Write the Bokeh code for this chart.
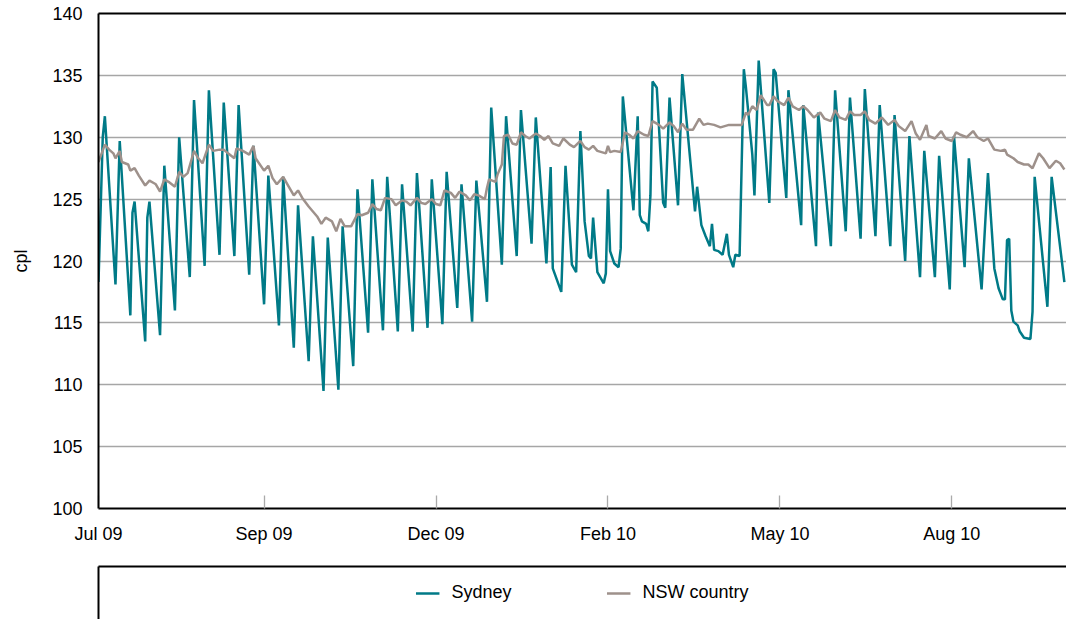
import pandas as pd
from bokeh.plotting import figure
from bokeh.models import (Range1d, FixedTicker, LinearAxis, DatetimeAxis, Grid,
                          Legend, LegendItem)
from bokeh.layouts import column
from bokeh.embed import file_html
from bokeh.resources import INLINE

# ---------------- data ----------------
start_date = "2009-07-01"
end_date = "2010-09-30"

syd_day = [0, 2, 3, 8, 10, 15, 16, 17, 22, 23, 24, 29, 31, 36, 38, 43, 45, 50, 52, 57,
           59, 64, 66, 71, 73, 78, 80, 85, 87, 92, 94, 99, 101, 106, 108, 113, 115, 120,
           122, 127, 129, 134, 136, 141, 143, 148, 150, 155, 157, 162, 164, 169, 171, 176,
           178, 183, 185, 190, 192, 197, 199, 204, 206, 211, 213, 214, 218, 220, 223, 225,
           227, 229, 231, 232, 233, 235, 238, 239, 240, 241, 243, 245, 246, 247, 252, 254,
           255, 256, 258, 259, 260, 261, 263, 266, 267, 269, 273, 275, 281, 282, 284, 286,
           288, 289, 290, 292, 294, 296, 297, 299, 300, 302, 304, 305, 308, 309, 311, 316,
           318, 319, 324, 325, 331, 332, 338, 339, 345, 347, 352, 354, 359, 361, 366, 368,
           373, 375, 380, 382, 387, 389, 394, 396, 401, 403, 408, 410, 416, 419, 422, 424,
           426, 427, 428, 429, 430, 431, 433, 434, 436, 439, 440, 441, 447, 449, 455]
syd_cpl = [118.3, 130.0, 131.7, 118.1, 129.7, 115.6, 123.9, 124.8, 113.5, 123.5, 124.8, 114.0,
           127.7, 116.0, 130.0, 118.7, 133.0, 119.6, 133.8, 120.5, 132.8, 120.4, 132.6, 118.9,
           129.3, 116.5, 126.9, 114.8, 126.8, 113.0, 124.5, 111.9, 122.0, 109.5, 121.9, 109.6,
           122.8, 111.5, 125.8, 114.2, 126.6, 114.4, 126.8, 114.3, 126.2, 114.3, 127.1, 114.6,
           126.6, 114.9, 127.2, 116.2, 126.2, 115.1, 126.5, 116.7, 132.4, 119.7, 131.7, 120.4,
           132.2, 121.4, 131.6, 119.8, 127.6, 119.4, 117.5, 127.7, 119.7, 119.1, 130.5, 123.2,
           120.4, 120.2, 123.5, 119.1, 118.2, 119.0, 125.8, 120.8, 119.8, 119.5, 121.0, 133.3,
           124.1, 131.7, 123.7, 123.2, 123.0, 122.4, 125.3, 134.5, 134.0, 124.7, 124.3, 133.2,
           124.5, 135.1, 124.0, 126.0, 122.9, 122.0, 121.2, 123.0, 120.9, 120.8, 120.5, 122.2,
           120.5, 119.5, 120.5, 120.4, 135.5, 134.0, 128.6, 125.3, 136.2, 124.7, 135.5, 135.2,
           125.1, 133.8, 122.9, 132.6, 121.2, 132.0, 121.2, 133.8, 122.4, 133.2, 121.8, 133.9,
           122.0, 132.6, 121.2, 131.8, 120.0, 130.1, 118.7, 128.9, 118.7, 128.5, 117.7, 130.1,
           119.5, 128.3, 117.7, 127.1, 119.4, 117.8, 116.9, 116.9, 121.7, 121.8, 116.0, 115.1,
           114.8, 114.3, 113.8, 113.7, 115.9, 126.8, 116.3, 126.8, 118.3]

nsw_day = [0, 3, 5, 7, 8, 10, 11, 14, 15, 17, 19, 22, 24, 26, 27, 29, 31, 33, 36, 38, 40, 42,
           45, 47, 49, 52, 54, 57, 59, 61, 64, 65, 68, 71, 73, 74, 78, 80, 82, 84, 87, 89, 92,
           94, 96, 99, 101, 103, 105, 107, 110, 112, 114, 116, 119, 122, 124, 127, 129, 131,
           133, 135, 138, 140, 143, 145, 147, 150, 152, 154, 157, 159, 161, 163, 166, 168,
           170, 173, 175, 177, 179, 182, 183, 184, 187, 188, 190, 191, 193, 195, 197, 199,
           201, 203, 206, 208, 210, 212, 214, 217, 219, 222, 224, 227, 229, 231, 233, 235,
           239, 240, 241, 243, 246, 248, 250, 252, 254, 257, 259, 261, 264, 266, 269, 271,
           273, 275, 277, 280, 283, 285, 287, 290, 293, 297, 300, 303, 305, 306, 308, 310,
           312, 315, 316, 318, 320, 323, 325, 327, 330, 332, 334, 337, 340, 342, 345, 347,
           349, 352, 354, 356, 359, 361, 363, 366, 369, 372, 375, 377, 380, 383, 385, 387,
           390, 391, 394, 397, 399, 402, 404, 406, 409, 412, 414, 417, 419, 422, 425, 427,
           428, 431, 433, 436, 438, 440, 443, 445, 448, 451, 453, 455]
nsw_cpl = [128.0, 129.4, 129.0, 128.7, 128.3, 128.9, 128.0, 127.8, 127.3, 127.5, 126.9, 126.1,
           126.5, 126.3, 126.2, 125.6, 126.6, 126.4, 126.0, 127.2, 126.8, 127.1, 128.9, 128.3,
           127.9, 129.4, 128.9, 129.0, 129.0, 128.7, 128.3, 129.1, 128.9, 128.6, 129.3, 128.3,
           127.3, 127.7, 126.7, 126.2, 126.8, 126.2, 125.3, 125.7, 125.1, 124.4, 124.0, 123.6,
           123.0, 123.5, 123.2, 122.4, 123.4, 122.8, 122.8, 123.8, 123.7, 123.9, 124.6, 124.2,
           124.1, 125.1, 125.0, 124.5, 124.9, 124.8, 124.5, 125.1, 124.7, 124.6, 125.0, 124.6,
           124.5, 125.7, 125.5, 125.1, 125.6, 125.3, 124.9, 125.4, 125.3, 125.0, 125.9, 126.6,
           126.4, 127.0, 127.8, 130.1, 130.2, 129.5, 129.4, 130.4, 130.1, 129.9, 130.3, 130.1,
           129.8, 130.1, 129.5, 129.3, 129.9, 129.4, 129.2, 129.7, 129.2, 129.0, 129.3, 128.9,
           128.7, 129.3, 128.8, 128.9, 128.8, 130.4, 130.2, 129.9, 130.5, 130.2, 130.1, 131.3,
           131.0, 130.7, 131.2, 130.9, 130.4, 131.1, 130.6, 130.6, 131.5, 131.0, 131.1, 131.0,
           130.8, 131.0, 131.0, 131.0, 132.0, 131.8, 132.5, 132.2, 133.4, 132.6, 132.6, 133.3,
           132.9, 132.6, 133.2, 132.5, 132.2, 132.5, 132.2, 131.6, 132.0, 131.5, 131.3, 132.2,
           131.6, 131.4, 132.1, 131.8, 131.8, 132.1, 131.4, 131.1, 131.6, 131.0, 131.4, 130.9,
           130.5, 131.3, 130.3, 129.8, 131.0, 130.1, 129.9, 130.5, 129.9, 129.7, 130.4, 130.2,
           130.0, 130.5, 130.0, 129.7, 129.9, 129.0, 128.9, 129.0, 128.6, 128.3, 128.0, 127.8,
           127.8, 127.5, 128.7, 128.3, 127.5, 128.1, 127.9, 127.4]

tick_dates = ["2009-07-01", "2009-09-17", "2009-12-07", "2010-02-26", "2010-05-18", "2010-08-07"]
tick_labels = ["Jul 09", "Sep 09", "Dec 09", "Feb 10", "May 10", "Aug 10"]
y_ticks = [100, 105, 110, 115, 120, 125, 130, 135, 140]
y_grid = [105, 110, 115, 120, 125, 130, 135]
series_names = ["Sydney", "NSW country"]

# ---------------- styling ----------------
FONT = "Liberation Sans"
TEAL = "#007A87"
TAUPE = "#9E918B"
GRID = "#A6A6A6"

t0 = pd.Timestamp(start_date)
t1 = pd.Timestamp(end_date)
syd_x = [t0 + pd.Timedelta(days=d) for d in syd_day]
nsw_x = [t0 + pd.Timedelta(days=d) for d in nsw_day]

p = figure(width=1066, height=565, x_axis_type=None, y_axis_location=None,
           x_range=Range1d(t0, t1), y_range=Range1d(100, 140),
           output_backend="svg", toolbar_location=None,
           min_border_left=98, min_border_right=0, min_border_top=13, min_border_bottom=57)
p.outline_line_color = None
p.background_fill_color = "white"
p.border_fill_color = "white"
for g in p.grid:
    g.visible = False

p.add_layout(Grid(dimension=1, ticker=FixedTicker(ticks=y_grid),
                  grid_line_color=GRID, grid_line_width=1.3))

yax = LinearAxis(ticker=FixedTicker(ticks=y_ticks), axis_label="cpl")
yax.major_tick_line_color = None
yax.minor_tick_line_color = None
yax.axis_line_color = "black"
yax.axis_line_width = 2
yax.major_label_text_font = FONT
yax.major_label_text_font_size = "18px"
yax.major_label_text_color = "black"
yax.major_label_standoff = 10
yax.axis_label_text_font = FONT
yax.axis_label_text_font_size = "18px"
yax.axis_label_text_font_style = "normal"
yax.axis_label_text_color = "black"
yax.axis_label_standoff = 18
p.add_layout(yax, "left")

tick_ms = [int(pd.Timestamp(d).value // 10**6) for d in tick_dates]
xax = DatetimeAxis(ticker=FixedTicker(ticks=tick_ms),
                   major_label_overrides=dict(zip(tick_ms, tick_labels)))
xax.major_tick_in = 13
xax.major_tick_out = 0
xax.major_tick_line_color = "#AAAAAA"
xax.major_tick_line_width = 1.3
xax.minor_tick_line_color = None
xax.axis_line_color = "black"
xax.axis_line_width = 2
xax.major_label_text_font = FONT
xax.major_label_text_font_size = "18px"
xax.major_label_text_color = "black"
xax.major_label_standoff = 15
p.add_layout(xax, "below")

top = LinearAxis(ticker=FixedTicker(ticks=[]))
top.major_tick_line_color = None
top.minor_tick_line_color = None
top.axis_line_color = "black"
top.axis_line_width = 2
p.add_layout(top, "above")

p.line(syd_x, syd_cpl, line_color=TEAL, line_width=2.5)
p.line(nsw_x, nsw_cpl, line_color=TAUPE, line_width=2.5)

# ---------------- legend panel ----------------
q = figure(width=1066, height=54, x_axis_type=None, y_axis_location=None,
           x_range=Range1d(0, 1), y_range=Range1d(0, 1),
           output_backend="svg", toolbar_location=None,
           min_border_left=98, min_border_right=0, min_border_top=1, min_border_bottom=0)
q.outline_line_color = None
q.background_fill_color = "white"
q.border_fill_color = "white"
for g in q.grid:
    g.visible = False
for loc in ("left", "above"):
    ax = LinearAxis(ticker=FixedTicker(ticks=[]))
    ax.major_tick_line_color = None
    ax.minor_tick_line_color = None
    ax.axis_line_color = "black"
    ax.axis_line_width = 2
    q.add_layout(ax, loc)

# legend proxies: the same series, lying outside this panel's 0..1 ranges
r1 = q.line(syd_x, syd_cpl, line_color=TEAL, line_width=2.5)
r2 = q.line(nsw_x, nsw_cpl, line_color=TAUPE, line_width=2.5)
legend = Legend(items=[LegendItem(label=series_names[0], renderers=[r1]),
                       LegendItem(label=series_names[1], renderers=[r2])],
                orientation="horizontal", location="top_center",
                border_line_color=None, background_fill_alpha=0,
                label_text_font=FONT, label_text_font_size="18px",
                label_text_color="black", glyph_width=24, glyph_height=20,
                label_height=20, label_standoff=12, spacing=95, padding=0, margin=16)
q.add_layout(legend)

layout = column(p, q, spacing=0)
open("out.html", "w").write(file_html(layout, INLINE))
